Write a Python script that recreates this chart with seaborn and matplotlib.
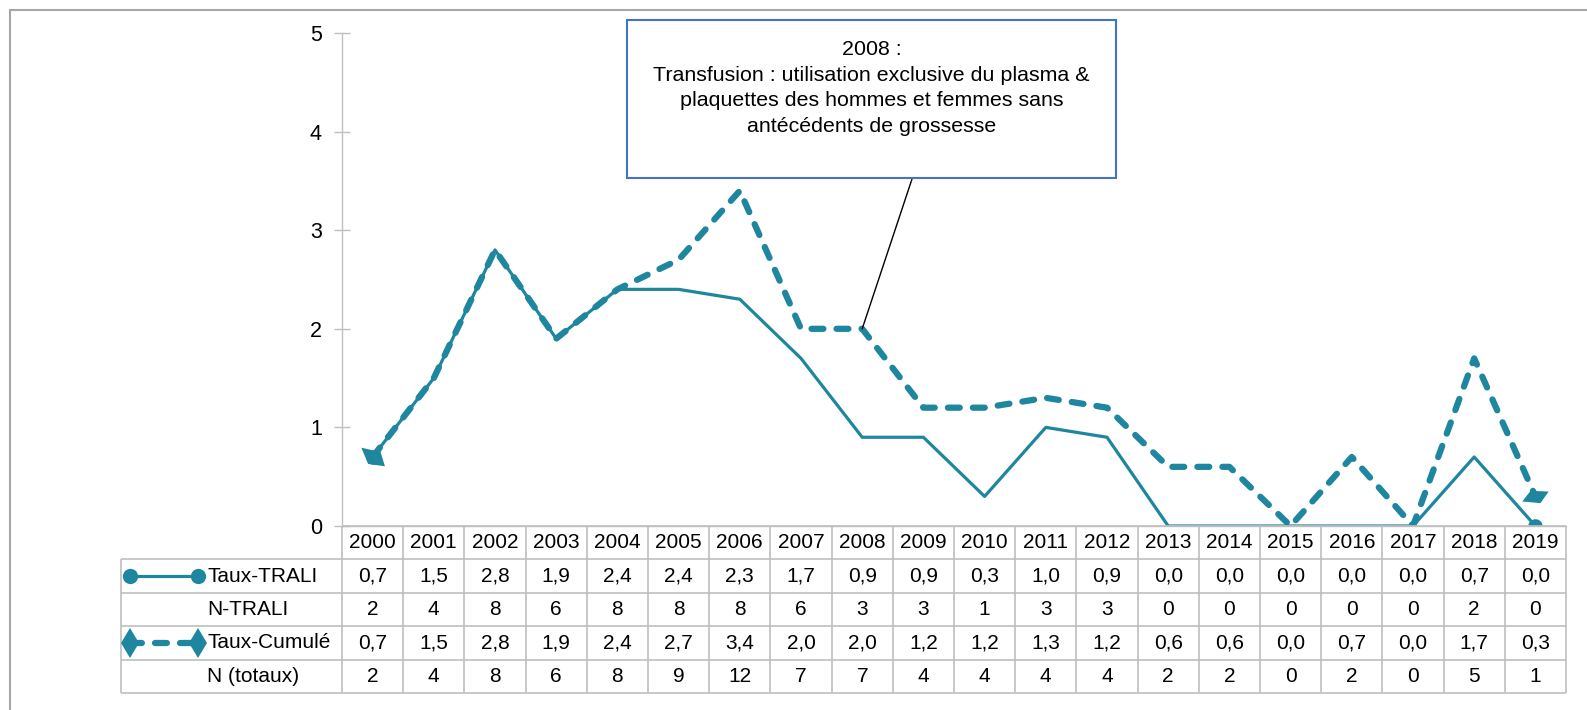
import numpy as np
import pandas as pd
import matplotlib
matplotlib.use("Agg")
import matplotlib.pyplot as plt
import seaborn as sns
from matplotlib.patches import Rectangle

# ---------------- data ----------------
years = [str(y) for y in range(2000, 2020)]
taux_trali = [0.7, 1.5, 2.8, 1.9, 2.4, 2.4, 2.3, 1.7, 0.9, 0.9, 0.3, 1.0, 0.9, 0.0, 0.0, 0.0, 0.0, 0.0, 0.7, 0.0]
n_trali = [2, 4, 8, 6, 8, 8, 8, 6, 3, 3, 1, 3, 3, 0, 0, 0, 0, 0, 2, 0]
taux_cumule = [0.7, 1.5, 2.8, 1.9, 2.4, 2.7, 3.4, 2.0, 2.0, 1.2, 1.2, 1.3, 1.2, 0.6, 0.6, 0.0, 0.7, 0.0, 1.7, 0.3]
n_totaux = [2, 4, 8, 6, 8, 9, 12, 7, 7, 4, 4, 4, 4, 2, 2, 0, 2, 0, 5, 1]
row_labels = ["Taux-TRALI", "N-TRALI", "Taux-Cumulé", "N (totaux)"]
y_ticks = [0, 1, 2, 3, 4, 5]
annot_year_index = 8
annot_value = 2.0
annotation_text = ("2008 :\nTransfusion : utilisation exclusive du plasma &\n"
                   "plaquettes des hommes et femmes sans\nantécédents de grossesse")

# ---------------- style ----------------
sns.set_style("white")
plt.rcParams['font.family'] = ['Liberation Sans', 'DejaVu Sans']
plt.rcParams['text.color'] = 'black'
plt.rcParams['ytick.labelcolor'] = 'black'

TEAL = '#1E869E'
GRID = '#BFBFBF'
FS = 15

W, H = 1587, 710
fig = plt.figure(figsize=(W / 100, H / 100), dpi=100)
fig.patch.set_facecolor('white')


def fx(px):
    return px / W


def fy(py):
    return 1 - py / H


# skewed end markers (as rendered in the original)
marker_first = [(-12, 9.7), (7, 5.3), (11.3, -8.7), (-5.3, -6.3), (-12, 9.7)]
marker_last = [(-13.3, -5), (-5, 5.7), (13.3, 5), (5, -6.7), (-13.3, -5)]

# main axes
ax = fig.add_axes([fx(342), fy(526), fx(1566) - fx(342), fy(33) - fy(526)])
df = pd.DataFrame({'pos': np.arange(len(years)), 'trali': taux_trali, 'cumule': taux_cumule})

sns.lineplot(data=df, x='pos', y='trali', ax=ax, color=TEAL, lw=2.3,
             marker='o', markersize=10.5, mec=TEAL, mew=0, markevery=[0, len(years) - 1])
sns.lineplot(data=df, x='pos', y='cumule', ax=ax, color=TEAL, lw=4.5,
             linestyle=(0, (1.9, 2.1)))
for ln in ax.lines:
    ln.set_dash_capstyle('round')
    ln.set_solid_capstyle('round')
    ln.set_dash_joinstyle('round')
    ln.set_solid_joinstyle('round')

first = df.iloc[[0]]
last = df.iloc[[-1]]
ax.plot(first['pos'], first['cumule'], ls='none', marker=marker_first,
        markersize=17.5, color=TEAL, mew=0)
ax.plot(last['pos'], last['cumule'], ls='none', marker=marker_last,
        markersize=19, color=TEAL, mew=0)

ax.set_xlim(-0.5, len(years) - 0.5)
ax.set_ylim(0, 5)
ax.set_yticks(y_ticks)
ax.set_yticklabels([str(t) for t in y_ticks])
ax.set_xticks([])
ax.set_xlabel('')
ax.set_ylabel('')
for s in ['top', 'right']:
    ax.spines[s].set_visible(False)
for s in ['left', 'bottom']:
    ax.spines[s].set_color(GRID)
    ax.spines[s].set_linewidth(1.0)
ax.tick_params(axis='y', direction='inout', length=11, width=1, color=GRID,
               labelsize=FS + 0.5, pad=9, left=True, labelcolor='black')
ax.patch.set_alpha(0)

# ---------------- data table ----------------
col_w_px = (1566 - 342) / len(years)
lab_w = (342 - 121) / col_w_px
tab = fig.add_axes([fx(121), fy(693), fx(1566) - fx(121), fy(526) - fy(693)])
tab.set_xlim(-0.5 - lab_w, len(years) - 0.5)
tab.set_ylim(0, 5)
tab.axis('off')

tab.hlines(5, -0.5, len(years) - 0.5, color=GRID, lw=1.2, clip_on=False)
tab.hlines([0, 1, 2, 3, 4], -0.5 - lab_w, len(years) - 0.5, color=GRID, lw=1.2, clip_on=False)
tab.vlines(np.arange(-0.5, len(years)), 0, 5, color=GRID, lw=1.2, clip_on=False)
tab.vlines(-0.5 - lab_w, 0, 4, color=GRID, lw=1.2, clip_on=False)


def fmt1(v):
    return f"{v:.1f}".replace('.', ',')


for i, yr in enumerate(years):
    tab.text(i, 4.5, yr, ha='center', va='center', fontsize=FS)
    tab.text(i, 3.5, fmt1(taux_trali[i]), ha='center', va='center', fontsize=FS)
    tab.text(i, 2.5, str(n_trali[i]), ha='center', va='center', fontsize=FS)
    tab.text(i, 1.5, fmt1(taux_cumule[i]), ha='center', va='center', fontsize=FS)
    tab.text(i, 0.5, str(n_totaux[i]), ha='center', va='center', fontsize=FS)

x_lab = -0.5 - lab_w + (207 - 121) / col_w_px
k0 = -0.5 - lab_w + (130 - 121) / col_w_px
k1 = -0.5 - lab_w + (198 - 121) / col_w_px
for r, lab in enumerate(row_labels):
    tab.text(x_lab, 3.5 - r, lab, ha='left', va='center', fontsize=FS)
tab.plot([k0, k1], [3.5, 3.5], color=TEAL, lw=2.3, marker='o', markersize=11,
         mew=0, clip_on=False)
kl = tab.plot([k0, k1], [1.5, 1.5], color=TEAL, lw=4.5, linestyle=(0, (1.9, 2.1)),
              marker='d', markersize=15, mew=0, clip_on=False)[0]
kl.set_dash_capstyle('round')

# ---------------- annotation ----------------
fig.add_artist(Rectangle((fx(627), fy(178)), fx(1116) - fx(627), fy(20) - fy(178),
                         transform=fig.transFigure, fill=False, ec='#4472C4', lw=1.5))
fig.text(fx(871.5), fy(88), annotation_text, ha='center', va='center',
         fontsize=FS + 0.4, linespacing=1.46)
ax.annotate('', xy=(annot_year_index, annot_value), xycoords='data',
            xytext=(fx(912), fy(179)), textcoords='figure fraction',
            arrowprops=dict(arrowstyle='-', color='black', lw=1, shrinkA=0, shrinkB=0))

# outer frame
fig.add_artist(Rectangle((fx(10), -0.5), 2, fy(10) + 0.5, transform=fig.transFigure,
                         fill=False, ec='#A6A6A6', lw=1.5))

fig.savefig('out.png', dpi=100)
